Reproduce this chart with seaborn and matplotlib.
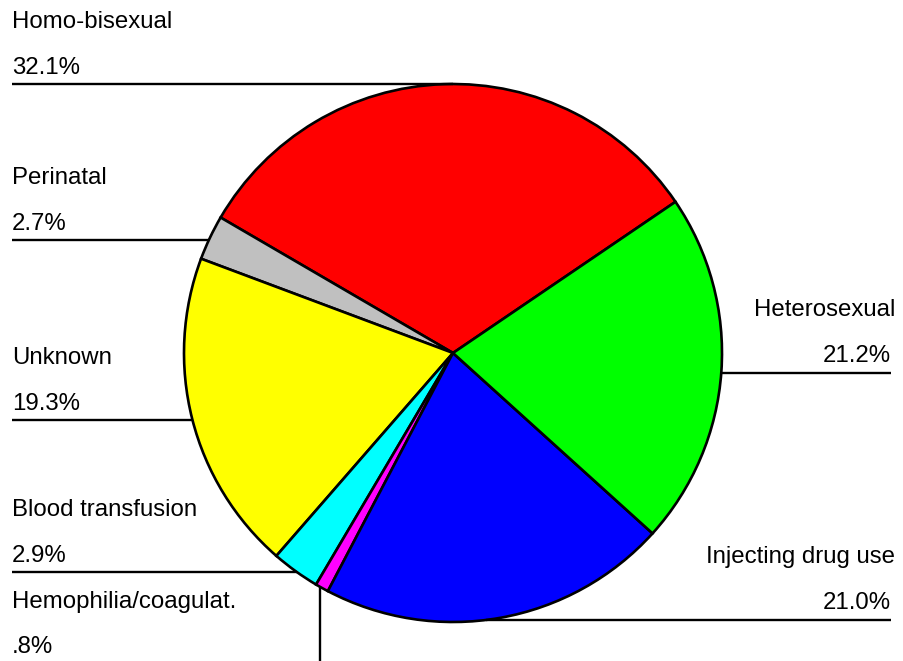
import numpy as np
import matplotlib
matplotlib.use("Agg")
import matplotlib.pyplot as plt
import seaborn as sns

# Slice data (counter-clockwise, starting at the red/green boundary)
categories = ["Homo-bisexual", "Perinatal", "Unknown", "Blood transfusion",
              "Hemophilia/coagulat.", "Injecting drug use", "Heterosexual"]
shares = [32.1, 2.7, 19.3, 2.9, 0.8, 21.0, 21.2]
pct_labels = ["32.1%", "2.7%", "19.3%", "2.9%", ".8%", "21.0%", "21.2%"]
colors = ["#ff0000", "#c0c0c0", "#ffff00", "#00ffff", "#ff00ff", "#0000ff", "#00ff00"]

sns.set_style("white")
plt.rcParams["font.family"] = ["Liberation Sans", "DejaVu Sans"]
plt.rcParams["text.color"] = "black"

W, H = 904, 661
fig = plt.figure(figsize=(W / 100, H / 100), dpi=100)
ax = fig.add_axes([0, 0, 1, 1])

# pie geometry in pixel-like units (y measured from top in the layout below)
cx, cy_top, r = 453, 353, 269
cy = H - cy_top

ax.pie(shares, colors=colors, startangle=34.2, counterclock=True,
       center=(cx, cy), radius=r, frame=True,
       wedgeprops=dict(edgecolor="black", linewidth=1.9))
ax.set_xlim(0, W)
ax.set_ylim(0, H)
ax.set_aspect("equal")
ax.axis("off")

fs = 17.3
lw = 1.7

# label layout: side and leader-line row (pixels from top)
layout = {
    "Homo-bisexual": ("left", 84),
    "Perinatal": ("left", 240),
    "Unknown": ("left", 420),
    "Blood transfusion": ("left", 572),
    "Injecting drug use": ("right", 620),
    "Heterosexual": ("right", 373),
}


def circle_x(y_top, side):
    dy = min(abs(y_top - cy_top), r)
    dx = np.sqrt(r ** 2 - dy ** 2)
    return cx - dx if side == "left" else cx + dx


for name, pct in zip(categories, pct_labels):
    if name in layout:
        side, ly = layout[name]
        y = H - ly
        edge = circle_x(ly, side)
        if side == "left":
            ax.plot([12, edge], [y, y], color="black", lw=lw, solid_capstyle="butt")
            ax.text(12, y + 56, name, fontsize=fs, ha="left", va="baseline")
            ax.text(12, y + 10, pct, fontsize=fs, ha="left", va="baseline")
        else:
            ax.plot([edge, 891], [y, y], color="black", lw=lw, solid_capstyle="butt")
            ax.text(895, y + 57, name, fontsize=fs, ha="right", va="baseline")
            ax.text(891, y + 11, pct, fontsize=fs, ha="right", va="baseline")
    else:
        # small slice at the bottom: vertical leader line
        vx = 320
        dy = np.sqrt(r ** 2 - (vx - cx) ** 2)
        ax.plot([vx, vx], [cy - dy, 0], color="black", lw=lw, solid_capstyle="butt")
        ax.text(12, H - 608, name, fontsize=fs, ha="left", va="baseline")
        ax.text(12, H - 653, pct, fontsize=fs, ha="left", va="baseline")

fig.savefig("out.png", dpi=100)
